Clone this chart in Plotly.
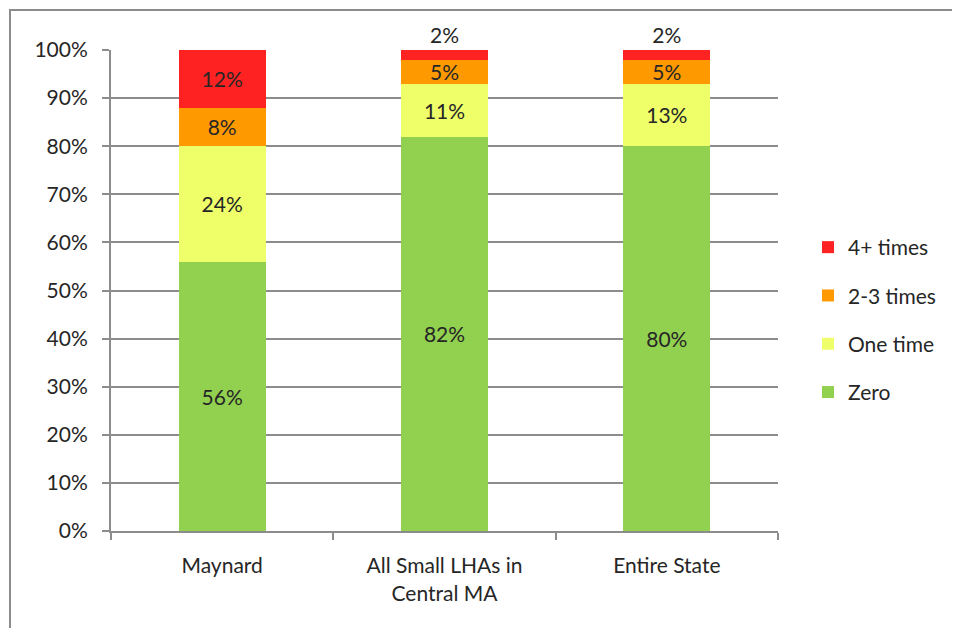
import plotly.graph_objects as go

categories = ["Maynard", "All Small LHAs in<br>Central MA", "Entire State"]
zero = [56, 82, 80]
one_time = [24, 11, 13]
two_three = [8, 5, 5]
four_plus = [12, 2, 2]

series = [
    ("Zero", zero, "#92D050", 4),
    ("One time", one_time, "#EEFF6A", 3),
    ("2-3 times", two_three, "#FF9900", 2),
    ("4+ times", four_plus, "#FF2222", 1),
]

FONT = "Lato"
TXT = "#262626"

fig = go.Figure()
for name, vals, col, rank in series:
    if name == "4+ times":
        pos = ["inside" if v >= 5 else "outside" for v in vals]
    else:
        pos = "inside"
    fig.add_trace(go.Bar(
        x=categories, y=vals, name=name, marker=dict(color=col, line=dict(width=0)),
        text=[f"{v}%" for v in vals], texttemplate="%{text}",
        textposition=pos, insidetextanchor="middle",
        textfont=dict(family=FONT, size=21, color=TXT),
        cliponaxis=False, legendgroup=name, legendrank=rank, width=0.39,
    ))

# page body has an 8px margin, so offsets are compensated
OFF = 8
L, R, T, B = 111 - OFF, 960 + OFF - 778, 50 - OFF, 628 + OFF - 531
pw, ph = 960 - L - R, 628 - T - B

fig.update_layout(
    width=960, height=628, barmode="stack",
    margin=dict(l=L, r=R, t=T, b=B),
    paper_bgcolor="white", plot_bgcolor="white",
    font=dict(family=FONT, size=21, color=TXT),
    uniformtext=dict(minsize=21, mode="show"),
    showlegend=True,
    legend=dict(x=1.0 + (808 - 778) / pw, y=(531 - 227) / ph, xanchor="left", yanchor="top",
                traceorder="grouped", tracegroupgap=18,
                font=dict(family=FONT, size=21, color=TXT), itemwidth=30),
    xaxis=dict(showline=True, linecolor="#8C8C8C", linewidth=2, ticks="outside",
               tickson="boundaries", ticklen=7, tickwidth=2, tickcolor="#8C8C8C",
               tickfont=dict(family=FONT, size=21, color=TXT), ticklabelstandoff=15),
    yaxis=dict(range=[0, 100], dtick=10, ticksuffix="%", showgrid=True,
               gridcolor="#8C8C8C", gridwidth=2, showline=True, linecolor="#8C8C8C",
               linewidth=2, ticks="outside", ticklen=7, tickwidth=2, tickcolor="#8C8C8C",
               zeroline=False, tickfont=dict(family=FONT, size=21, color=TXT),
               ticklabelstandoff=10),
    shapes=[dict(type="rect", xref="paper", yref="paper",
                 x0=(10 - 111) / pw, x1=(990 - 111) / pw,
                 y0=-(660 - 531) / ph, y1=1 + (50 - 10) / ph,
                 line=dict(color="#8C8C8C", width=2), fillcolor="rgba(0,0,0,0)",
                 layer="below")],
)

fig.write_html("out.html")
